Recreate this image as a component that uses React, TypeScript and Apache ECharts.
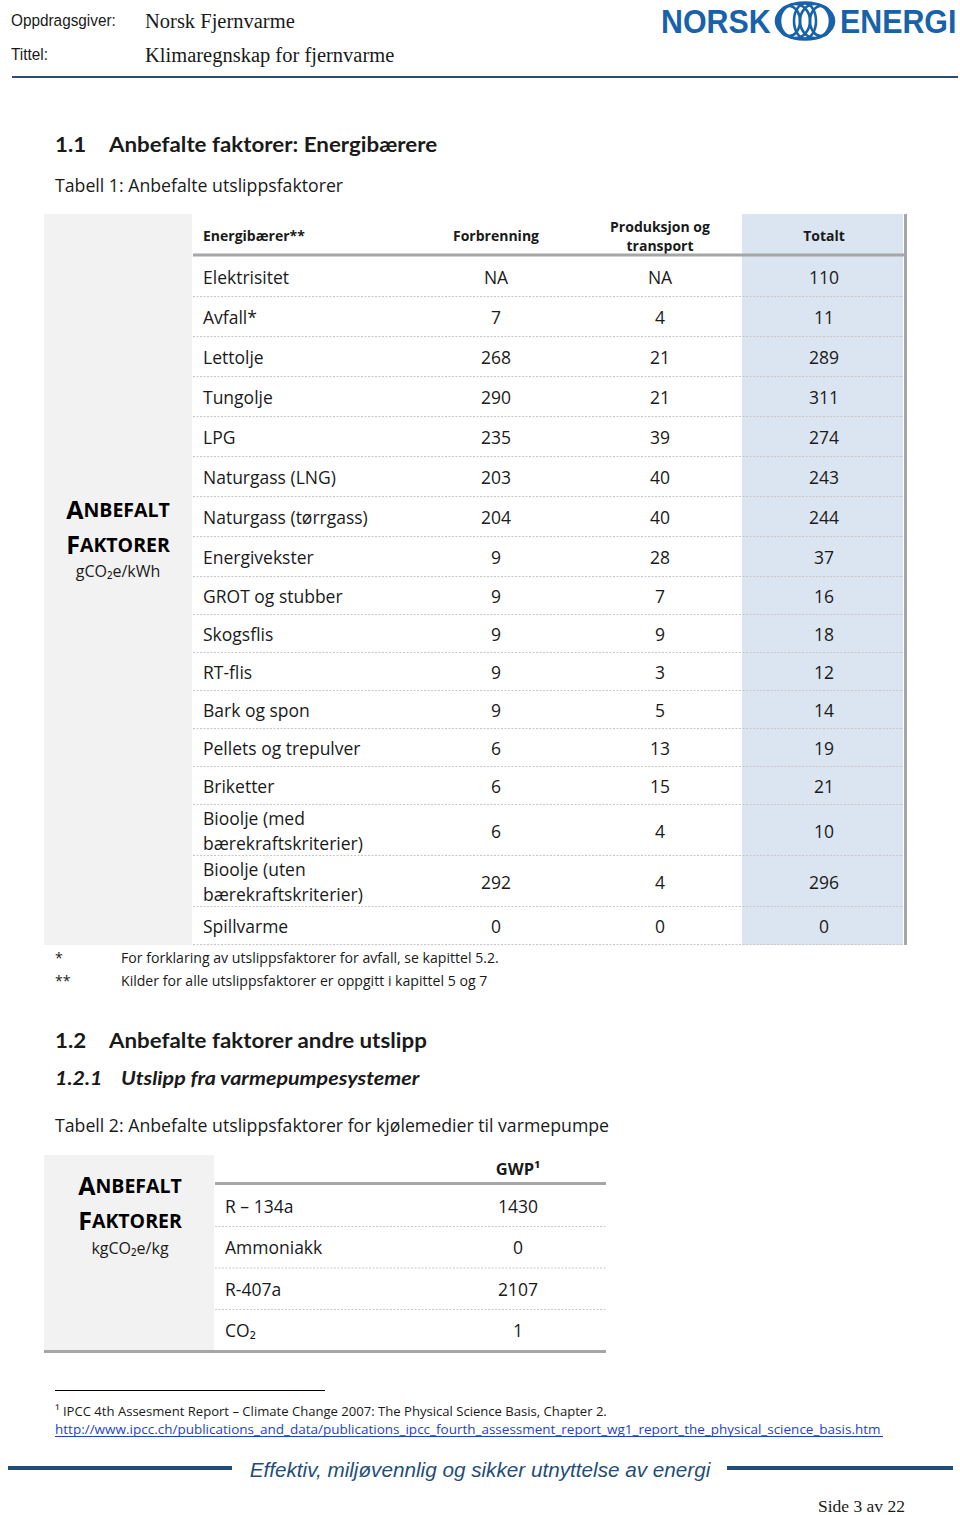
import React, { useEffect, useRef } from "react";
import * as echarts from "echarts";

// ---------- data ----------
const carriers = [
  "Elektrisitet",
  "Avfall*",
  "Lettolje",
  "Tungolje",
  "LPG",
  "Naturgass (LNG)",
  "Naturgass (tørrgass)",
  "Energivekster",
  "GROT og stubber",
  "Skogsflis",
  "RT-flis",
  "Bark og spon",
  "Pellets og trepulver",
  "Briketter",
  "Bioolje (med\nbærekraftskriterier)",
  "Bioolje (uten\nbærekraftskriterier)",
  "Spillvarme",
];
const combustion: (number | null)[] = [null, 7, 268, 290, 235, 203, 204, 9, 9, 9, 9, 9, 6, 6, 6, 292, 0];
const production: (number | null)[] = [null, 4, 21, 21, 39, 40, 40, 28, 7, 9, 3, 5, 13, 15, 4, 4, 0];
const totals = [110, 11, 289, 311, 274, 243, 244, 37, 16, 18, 12, 14, 19, 21, 10, 296, 0];
const table1Headers = ["Energibærer**", "Forbrenning", "Produksjon og\ntransport", "Totalt"];

const refrigerants = ["R – 134a", "Ammoniakk", "R-407a", "CO₂"];
const gwp = [1430, 0, 2107, 1];
const table2Header = "GWP¹";

const footnotes1 = [
  ["*", "For forklaring av utslippsfaktorer for avfall, se kapittel 5.2."],
  ["**", "Kilder for alle utslippsfaktorer er oppgitt i kapittel 5 og 7"],
];

// ---------- styles ----------
const BODY = "Open Sans";
const HEAD = "Lato";
const SERIF = "Liberation Serif";
const ARIAL = "Liberation Sans";
const INK = "#1a1a1a";
const GREY_PANEL = "#f2f2f2";
const BLUE_COL = "#dbe5f1";
const RULE = "#a6a6a6";
const DASH = "#c8c8c8";
const NAVY = "#1f4e79";
const LOGO = "#1762ab";

function txt(x: number, y: number, text: string, o: any = {}) {
  return {
    type: "text",
    x,
    y,
    silent: true,
    style: {
      text,
      fill: o.fill || INK,
      fontSize: o.size || 17,
      fontFamily: o.family || BODY,
      fontWeight: o.weight || "normal",
      fontStyle: o.style || "normal",
      align: o.align || "left",
      verticalAlign: o.va || "middle",
      lineHeight: o.lh,
      rich: o.rich,
    },
    scaleX: o.scaleX,
  };
}
function line(x1: number, y1: number, x2: number, y2: number, stroke: string, lw: number, dash?: number[]) {
  return {
    type: "line",
    silent: true,
    shape: { x1, y1, x2, y2 },
    style: { stroke, lineWidth: lw, lineDash: dash },
  };
}
function rect(x: number, y: number, w: number, h: number, fill: string) {
  return { type: "rect", silent: true, shape: { x, y, width: w, height: h }, style: { fill } };
}
const fmt = (v: number | null) => (v === null ? "NA" : String(v));

function smallCaps(word: string, cx: number, y: number) {
  return txt(cx, y, `{a|${word[0]}}{b|${word.slice(1)}}`, {
    align: "center",
    rich: {
      a: { fontSize: 25, fontWeight: "bold", fontFamily: BODY, fill: "#000" },
      b: { fontSize: 19.5, fontWeight: "bold", fontFamily: BODY, fill: "#000" },
    },
  });
}

function buildGraphic() {
  const g: any[] = [];

  // ---- page header ----
  g.push(txt(11, 20, "Oppdragsgiver:", { family: ARIAL, size: 16.5, scaleX: 0.93 }));
  g.push(txt(11, 54, "Tittel:", { family: ARIAL, size: 16.5, scaleX: 0.93 }));
  g.push(txt(145, 21, "Norsk Fjernvarme", { family: SERIF, size: 20.5 }));
  g.push(txt(145, 55, "Klimaregnskap for fjernvarme", { family: SERIF, size: 20.5 }));
  g.push(line(12, 77, 958, 77, "#2e4d6e", 2));

  // logo
  g.push(txt(661, 22, "NORSK", { family: ARIAL, size: 33, weight: "bold", fill: LOGO, scaleX: 0.92 }));
  g.push(txt(840, 22, "ENERGI", { family: ARIAL, size: 33, weight: "bold", fill: LOGO, scaleX: 0.92 }));
  const swirl = [
    { cx: 805, rx: 29, ry: 18.5 },
    { cx: 795, rx: 15, ry: 17 },
    { cx: 815, rx: 15, ry: 17 },
    { cx: 805, rx: 11, ry: 17.5 },
    { cx: 789, rx: 11, ry: 15 },
    { cx: 821, rx: 11, ry: 15 },
  ];
  swirl.forEach((s) =>
    g.push({
      type: "ellipse",
      silent: true,
      shape: { cx: s.cx, cy: 21, rx: s.rx, ry: s.ry },
      style: { fill: "none", stroke: LOGO, lineWidth: 2.6 },
    })
  );

  // ---- section 1.1 ----
  const H1 = { family: HEAD, size: 20.5, weight: "bold", scaleX: 1.09 };
  g.push(txt(55, 144, "1.1", H1));
  g.push(txt(109, 144, "Anbefalte faktorer: Energibærere", H1));
  g.push(txt(55, 185, "Tabell 1: Anbefalte utslippsfaktorer", { size: 17.7 }));

  // ---- table 1 ----
  const t1Top = 214;
  const t1HeadBottom = 256;
  const heights = carriers.map((c, i) => (c.includes("\n") ? 51 : i === 0 ? 41 : i < 8 ? 40 : 38));
  const t1Bottom = t1HeadBottom + heights.reduce((a, b) => a + b, 0);
  const xName = 203;
  const xCols = [496, 660, 824];

  g.push(rect(44, t1Top, 148, t1Bottom - t1Top, GREY_PANEL));
  g.push(rect(742, t1Top, 161, t1Bottom - t1Top, BLUE_COL));

  // header
  g.push(txt(xName, 235, table1Headers[0], { size: 14, weight: "bold" }));
  table1Headers.slice(1).forEach((h, i) =>
    g.push(txt(xCols[i], 235.5, h, { size: 14, weight: "bold", align: "center", lh: 19 }))
  );
  g.push(line(193, t1HeadBottom - 1, 905, t1HeadBottom - 1, RULE, 3));

  // rows
  let y = t1HeadBottom;
  carriers.forEach((c, i) => {
    const h = heights[i];
    const cy = y + h / 2;
    g.push(txt(xName, cy, c, { size: 17.5, lh: 25 }));
    g.push(txt(xCols[0], cy, fmt(combustion[i]), { size: 17.5, align: "center" }));
    g.push(txt(xCols[1], cy, fmt(production[i]), { size: 17.5, align: "center" }));
    g.push(txt(xCols[2], cy, fmt(totals[i]), { size: 17.5, align: "center" }));
    y += h;
    g.push(line(193, y - 0.5, 903, y - 0.5, DASH, 1, [2, 1.5]));
  });
  g.push(line(905.5, t1Top, 905.5, t1Bottom, RULE, 3));

  // left label
  g.push(smallCaps("ANBEFALT", 118, 509));
  g.push(smallCaps("FAKTORER", 118, 544));
  g.push(txt(118, 571, "gCO₂e/kWh", { size: 16, align: "center" }));

  // footnotes
  footnotes1.forEach((f, i) => {
    g.push(txt(55, 957 + i * 23, f[0], { size: 14.1 }));
    g.push(txt(121, 957 + i * 23, f[1], { size: 14.1 }));
  });

  // ---- section 1.2 ----
  g.push(txt(55, 1040, "1.2", H1));
  g.push(txt(109, 1040, "Anbefalte faktorer andre utslipp", H1));
  const H2 = { family: HEAD, size: 19, weight: "bold", style: "italic", scaleX: 1.13 };
  g.push(txt(55, 1078, "1.2.1", H2));
  g.push(txt(121, 1078, "Utslipp fra varmepumpesystemer", H2));
  g.push(txt(55, 1125, "Tabell 2: Anbefalte utslippsfaktorer for kjølemedier til varmepumpe", { size: 17.7 }));

  // ---- table 2 ----
  const t2Top = 1155;
  const t2HeadBottom = 1185;
  const rh2 = 41.5;
  const t2Bottom = t2HeadBottom + rh2 * refrigerants.length;
  g.push(rect(44, t2Top, 170, t2Bottom - t2Top, GREY_PANEL));
  g.push(txt(518, 1168, table2Header, { size: 16.5, weight: "bold", align: "center" }));
  g.push(line(215, t2HeadBottom - 1.5, 606, t2HeadBottom - 1.5, RULE, 3));
  refrigerants.forEach((r, i) => {
    const cy = t2HeadBottom + rh2 * i + rh2 / 2;
    g.push(txt(225, cy, r, { size: 17.5 }));
    g.push(txt(518, cy, String(gwp[i]), { size: 17.5, align: "center" }));
    if (i < refrigerants.length - 1)
      g.push(line(215, t2HeadBottom + rh2 * (i + 1), 606, t2HeadBottom + rh2 * (i + 1), DASH, 1, [2, 1.5]));
  });
  g.push(line(44, t2Bottom + 0.5, 606, t2Bottom + 0.5, RULE, 3));
  g.push(smallCaps("ANBEFALT", 130, 1185));
  g.push(smallCaps("FAKTORER", 130, 1220));
  g.push(txt(130, 1248, "kgCO₂e/kg", { size: 16, align: "center" }));

  // ---- footnote ----
  g.push(line(55, 1390.5, 325, 1390.5, "#000", 1));
  g.push(
    txt(55, 1411, "¹ IPCC 4th Assesment Report – Climate Change 2007: The Physical Science Basis, Chapter 2.", {
      size: 13.5,
      scaleX: 0.97,
    })
  );
  const url =
    "http://www.ipcc.ch/publications_and_data/publications_ipcc_fourth_assessment_report_wg1_report_the_physical_science_basis.htm";
  g.push(txt(55, 1429, url, { size: 13.5, fill: "#1f3fd1", scaleX: 1.0 }));
  g.push(line(55, 1436.5, 883, 1436.5, "#1f3fd1", 1));

  // ---- footer ----
  g.push(line(8, 1468, 232, 1468, NAVY, 4));
  g.push(line(727, 1468, 953, 1468, NAVY, 4));
  g.push(
    txt(480, 1469, "Effektiv, miljøvennlig og sikker utnyttelse av energi", {
      family: ARIAL,
      size: 20.7,
      style: "italic",
      fill: NAVY,
      align: "center",
    })
  );
  g.push(txt(905, 1506, "Side 3 av 22", { family: SERIF, size: 17.5, align: "right" }));

  return g;
}

export default function App() {
  const ref = useRef<HTMLDivElement>(null);
  useEffect(() => {
    document.body.style.margin = "0";
    if (!ref.current) return;
    const chart = echarts.init(ref.current, undefined, { renderer: "svg" });
    chart.setOption({
      animation: false,
      backgroundColor: "#ffffff",
      graphic: { elements: buildGraphic() },
    });
    return () => chart.dispose();
  }, []);
  return <div ref={ref} style={{ width: 960, height: 1515, position: "absolute", left: 0, top: 0 }} />;
}
